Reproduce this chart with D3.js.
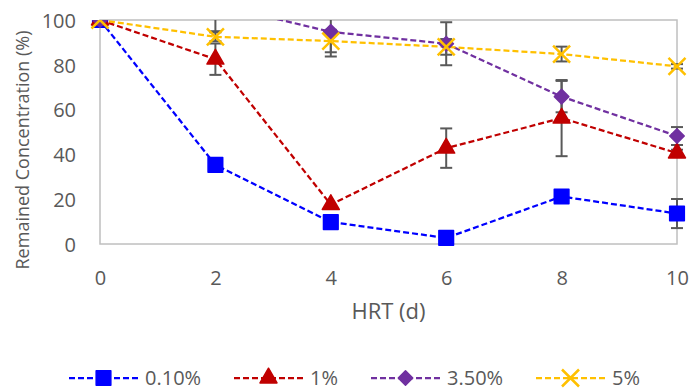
<!DOCTYPE html>
<html lang="en">
  <head>
    <meta charset="UTF-8" />
    <title>Remained Concentration vs HRT</title>
    <script src="https://d3js.org/d3.v7.min.js"></script>
    <style>
      body {
        margin: 0;
        background: #fff;
      }
    </style>
  </head>
  <body>
    <div id="chart"></div>
    <script>
      // data
      const hrt = [0, 2, 4, 6, 8, 10];
      const seriesNames = ["0.10%", "1%", "3.50%", "5%"];
      const conc01 = [100, 35.3, 9.8, 2.7, 21.2, 13.6];
      const err01 = [0, 0, 0, 0, 0, 6.5];
      const conc1 = [100, 82.5, 17.6, 42.8, 56.2, 40.6];
      const err1 = [0, 7, 0, 8.8, 17, 1.5];
      const conc35 = [100, 107, 94.7, 89.4, 65.8, 48.2];
      const err35 = [0, 12, 11, 9.6, 7, 4];
      const conc5 = [100, 92.5, 90.6, 88, 84.8, 79.3];
      const err5 = [0, 2, 5, 3.5, 3.3, 1];
      const yTicks = [0, 20, 40, 60, 80, 100];

      const width = 692;
      const height = 391;
      const margin = { top: 20, right: 15, bottom: 147, left: 100 };
      const font = "'Open Sans', Lato, 'Liberation Sans', sans-serif";

      const svg = d3
        .select("#chart")
        .append("svg")
        .attr("width", width)
        .attr("height", height)
        .style("font-family", font);

      const x = d3
        .scaleLinear()
        .domain([0, 10])
        .range([margin.left, width - margin.right]);
      const y = d3
        .scaleLinear()
        .domain([0, 100])
        .range([height - margin.bottom, margin.top]);

      const textColor = "#595959";
      const gridColor = "#bfbfbf";

      // plot area border
      svg
        .append("rect")
        .attr("x", x(0))
        .attr("y", y(100))
        .attr("width", x(10) - x(0))
        .attr("height", y(0) - y(100))
        .attr("fill", "none")
        .attr("stroke", gridColor)
        .attr("stroke-width", 1.5);

      // axes (labels only)
      const yAxis = svg
        .append("g")
        .attr("transform", `translate(${x(0) - 24},0)`)
        .call(d3.axisLeft(y).tickValues(yTicks).tickSize(0).tickPadding(0));
      const xAxis = svg
        .append("g")
        .attr("transform", `translate(0,285)`)
        .call(d3.axisBottom(x).tickValues(hrt).tickSize(0).tickPadding(0));
      [xAxis, yAxis].forEach((a) => {
        a.select(".domain").remove();
        a.selectAll("text")
          .attr("fill", textColor)
          .style("font-size", "20px")
          .style("font-family", font);
      });
      yAxis.selectAll("text").attr("dy", "0.36em");
      xAxis.selectAll("text").attr("y", 0).attr("dy", 0);

      // axis titles
      svg
        .append("text")
        .attr("transform", "translate(29,150) rotate(-90)")
        .attr("text-anchor", "middle")
        .attr("fill", textColor)
        .style("font-size", "18px")
        .text("Remained Concentration (%)");
      svg
        .append("text")
        .attr("x", (x(0) + x(10)) / 2)
        .attr("y", 319)
        .attr("text-anchor", "middle")
        .attr("fill", textColor)
        .style("font-size", "22px")
        .text("HRT (d)");

      // clip to plot area
      svg
        .append("clipPath")
        .attr("id", "plot-clip")
        .append("rect")
        .attr("x", x(0) - 10)
        .attr("y", y(100))
        .attr("width", x(10) - x(0) + 20)
        .attr("height", y(0) - y(100) + 10);

      const series = [
        { name: seriesNames[0], values: conc01, errs: err01, color: "#0000ff", shape: "square" },
        { name: seriesNames[1], values: conc1, errs: err1, color: "#c00000", shape: "triangle" },
        { name: seriesNames[2], values: conc35, errs: err35, color: "#7030a0", shape: "diamond" },
        { name: seriesNames[3], values: conc5, errs: err5, color: "#ffc000", shape: "x" },
      ];

      function markerPath(shape, scale) {
        const s = scale || 1;
        if (shape === "square") return d3.symbol(d3.symbolSquare, 215 * s * s)();
        if (shape === "triangle") return d3.symbol(d3.symbolTriangle, 125 * s * s)();
        if (shape === "diamond") return d3.symbol(d3.symbolSquare, 105 * s * s)();
        return d3.symbol(d3.symbolX, 190 * s * s)();
      }

      function drawMarker(sel, d, px, py, scale) {
        const p = sel
          .append("path")
          .attr("d", markerPath(d.shape, scale))
          .attr("transform", `translate(${px},${py})` + (d.shape === "diamond" ? " rotate(45)" : ""));
        if (d.shape === "x") {
          p.attr("fill", "none").attr("stroke", d.color).attr("stroke-width", 2.5);
        } else {
          p.attr("fill", d.color).attr("stroke", d.color).attr("stroke-width", 1.5).attr("stroke-linejoin", "round");
        }
      }

      const plot = svg.append("g").attr("clip-path", "url(#plot-clip)");

      const line = d3
        .line()
        .x((d, i) => x(hrt[i]))
        .y((d) => y(d));

      // error bars
      const errG = plot.append("g").attr("stroke", "#595959").attr("stroke-width", 2);
      series.forEach((s) => {
        s.values.forEach((v, i) => {
          const e = s.errs[i];
          if (!e) return;
          const cx = x(hrt[i]);
          errG.append("line").attr("x1", cx).attr("x2", cx).attr("y1", y(v - e)).attr("y2", y(v + e));
          [v - e, v + e].forEach((ev) => {
            errG.append("line").attr("x1", cx - 6).attr("x2", cx + 6).attr("y1", y(ev)).attr("y2", y(ev));
          });
        });
      });

      // dashed lines
      series.forEach((s) => {
        plot
          .append("path")
          .datum(s.values)
          .attr("fill", "none")
          .attr("stroke", s.color)
          .attr("stroke-width", 2.25)
          .attr("stroke-dasharray", "6,3")
          .attr("d", line);
      });

      // markers
      series.forEach((s) => {
        const g = plot.append("g");
        s.values.forEach((v, i) => drawMarker(g, s, x(hrt[i]), y(v), 1));
      });

      // legend
      const legendX = [69, 234, 371, 536];
      const legendY = 378;
      series.forEach((s, i) => {
        const g = svg.append("g");
        g.append("line")
          .attr("x1", legendX[i])
          .attr("x2", legendX[i] + 69)
          .attr("y1", legendY)
          .attr("y2", legendY)
          .attr("stroke", s.color)
          .attr("stroke-width", 2.25)
          .attr("stroke-dasharray", "6,3");
        drawMarker(g, s, legendX[i] + 34.5, legendY, 1);
        g.append("text")
          .attr("x", legendX[i] + 76)
          .attr("y", legendY)
          .attr("dy", "0.36em")
          .attr("fill", textColor)
          .style("font-size", "20px")
          .text(s.name);
      });
    </script>
  </body>
</html>
